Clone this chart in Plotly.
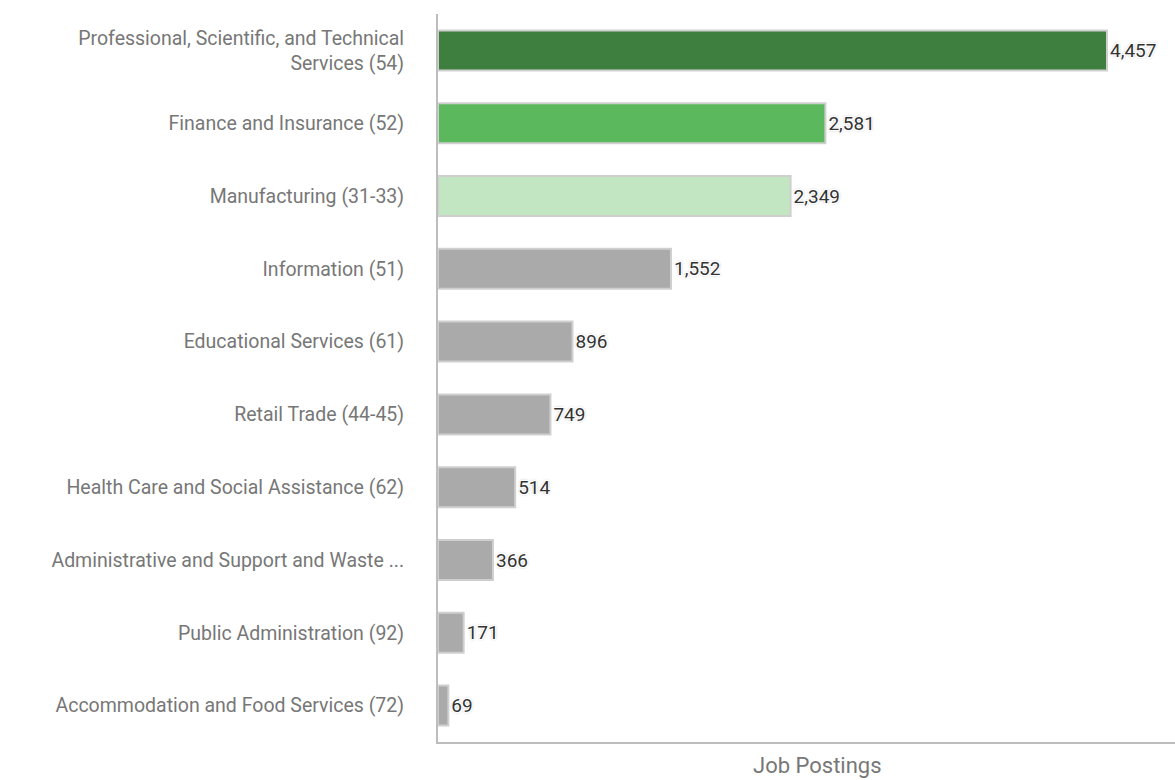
import plotly.graph_objects as go

industries = [
    "Professional, Scientific, and Technical<br>Services (54)",
    "Finance and Insurance (52)",
    "Manufacturing (31-33)",
    "Information (51)",
    "Educational Services (61)",
    "Retail Trade (44-45)",
    "Health Care and Social Assistance (62)",
    "Administrative and Support and Waste ...",
    "Public Administration (92)",
    "Accommodation and Food Services (72)",
]
postings = [4457, 2581, 2349, 1552, 896, 749, 514, 366, 171, 69]
bar_colors = ["#3e7f3f", "#5cb85c", "#c2e5c2"] + ["#aaaaaa"] * 7

# white outline around the value labels, with a soft grey edge
halo = ("1px 1px 0 #fff, -1px -1px 0 #fff, 1px -1px 0 #fff, -1px 1px 0 #fff, "
        "0 0 3px #777")

fig = go.Figure(
    go.Bar(
        x=postings,
        y=industries,
        orientation="h",
        width=0.55,
        marker=dict(color=bar_colors, line=dict(color="#cfcfcf", width=2)),
        text=[f"{v:,}" for v in postings],
        textposition="outside",
        cliponaxis=False,
        textfont=dict(family="Roboto", size=19, color="#333333", shadow=halo),
        hoverinfo="x+y",
    )
)

fig.update_layout(
    width=1175,
    height=780,
    margin=dict(l=438, r=0, t=14, b=38),
    plot_bgcolor="white",
    paper_bgcolor="white",
    showlegend=False,
    font=dict(family="Roboto", color="#777777"),
    annotations=[
        dict(
            text="Job Postings",
            xref="paper",
            yref="paper",
            x=0.515,
            y=0,
            yshift=-23,
            xanchor="center",
            yanchor="middle",
            showarrow=False,
            font=dict(family="Roboto", size=22, color="#777777"),
        )
    ],
)

fig.update_xaxes(
    range=[0, 4910],
    showgrid=False,
    zeroline=False,
    showticklabels=False,
    showline=True,
    linecolor="#bdbdbd",
    linewidth=2,
)
fig.update_yaxes(
    categoryorder="array",
    categoryarray=industries[::-1],
    range=[-0.5, 9.5],
    showgrid=False,
    showline=True,
    linecolor="#bdbdbd",
    linewidth=2,
    ticks="outside",
    ticklen=28,
    tickcolor="rgba(0,0,0,0)",
    tickfont=dict(family="Roboto", size=19.5, color="#777777"),
)

fig.write_html("out.html")
